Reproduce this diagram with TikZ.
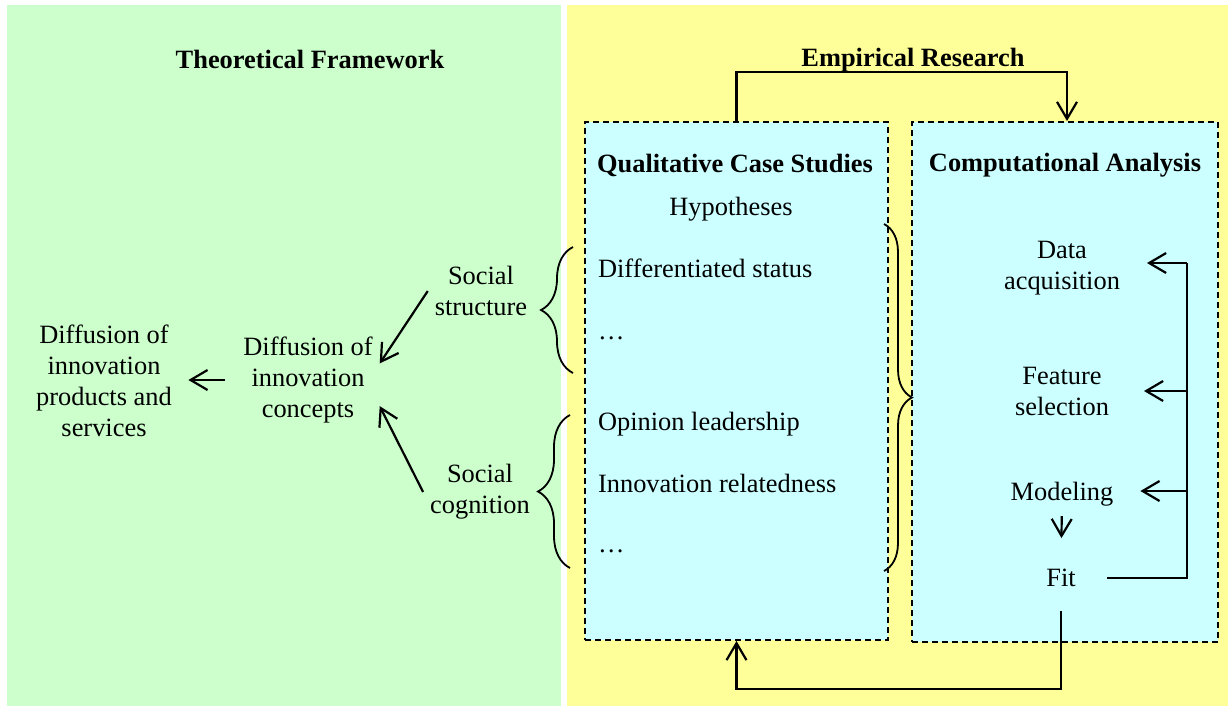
\documentclass[tikz,border=0pt]{standalone}
\usepackage{fontspec}
\setmainfont{Liberation Serif}
\usetikzlibrary{arrows.meta,decorations.pathreplacing}
\definecolor{theorygreen}{RGB}{204,255,204}
\definecolor{empiryellow}{RGB}{255,255,153}
\definecolor{casecyan}{RGB}{204,255,255}
\begin{document}
\begin{tikzpicture}[x=0.5pt,y=-0.5pt,>={Straight Barb[length=8.5pt,width=10pt]},
	txt/.style={align=center,font=\fontsize{13.2}{15.5}\selectfont},
	head/.style={font=\fontsize{13.2}{15.5}\selectfont\bfseries},
	item/.style={anchor=west,font=\fontsize{13.2}{15.5}\selectfont},
	casebox/.style={draw,line width=1pt,dash pattern=on 3pt off 2pt,fill=casecyan},
	link/.style={line width=1.1pt},
	curly/.style={decorate,decoration={brace,amplitude=#1},line width=0.9pt}]
	\useasboundingbox (0,0) rectangle (1231,708);
	\fill[white] (0,0) rectangle (1231,708);
	\fill[theorygreen] (7,5) rectangle (561,706);
	\fill[empiryellow] (567,5) rectangle (1228,706);
	% theoretical side
	\draw (310,59) node[head] (theory) {Theoretical Framework};
	\draw (104,381) node[txt] (products) {Diffusion of\\innovation\\products and\\services};
	\draw (308,380) node[txt] (concept) {Diffusion of\\innovation\\concepts};
	\draw (481,291) node[txt] (sstruct) {Social\\structure};
	\draw (480,492) node[txt] (scog) {Social\\cognition};
	\draw[link,->] (sstruct.west) -- (concept.13);
	\draw[link,->] (scog.west) -- (concept.-20);
	\draw[link,->] ([xshift=-5.5pt]concept.west) -- ([xshift=4.75pt]concept.west -| products.east);
	\draw[curly=16pt] (573,373) -- (573,247);
	\draw[curly=16pt] (570,568) -- (570,415);
	% empirical side
	\draw (913,60) node[head] (empir) {Empirical Research};
	\draw (736.5,381) node[casebox,minimum width=151.5pt,minimum height=259pt] (qualbox) {};
	\draw (1065,382) node[casebox,minimum width=153pt,minimum height=260pt] (compbox) {};
	\draw (735,165) node[head] (qualhead) {Qualitative Case Studies};
	\draw (1065,165) node[head] (comphead) {Computational Analysis};
	\draw (731,209) node[txt] (hypo) {Hypotheses};
	\draw (591,268) node[item] (diffstat) {Differentiated status};
	\draw (591,338) node[item] (dotsa) {…};
	\draw (591,424) node[item] (opinion) {Opinion leadership};
	\draw (591,483) node[item] (related) {Innovation relatedness};
	\draw (591,551) node[item] (dotsb) {…};
	\draw[curly=14pt] (884,224) -- (884,571);
	\draw (1062,268) node[txt] (data) {Data\\acquisition};
	\draw (1062,391) node[txt] (feature) {Feature\\selection};
	\draw (1062,494) node[txt] (model) {Modeling};
	\draw (1061,578) node[txt] (fit) {Fit};
	\coordinate (rail) at (1187,263);
	\draw[link] ([xshift=12pt]fit.east) -| (rail);
	\draw[link,->] (rail) -- ([xshift=10pt]data.east |- rail);
	\draw[link,->] (rail |- feature) -- ([xshift=14pt]feature.east);
	\draw[link,->] ([yshift=1.5pt]rail |- model) -- ([xshift=10pt,yshift=1.5pt]model.east);
	\draw[link,->,shorten <=1.5pt,shorten >=12pt] (model) -- (fit);
	\draw[link,->] (qualbox.north) -- ++(0,-49) -| ([xshift=1pt]compbox.north);
	\draw[link,->] ([yshift=-8.5pt]fit.south) -- ++(0,78) -| (qualbox.south);
\end{tikzpicture}
\end{document}
